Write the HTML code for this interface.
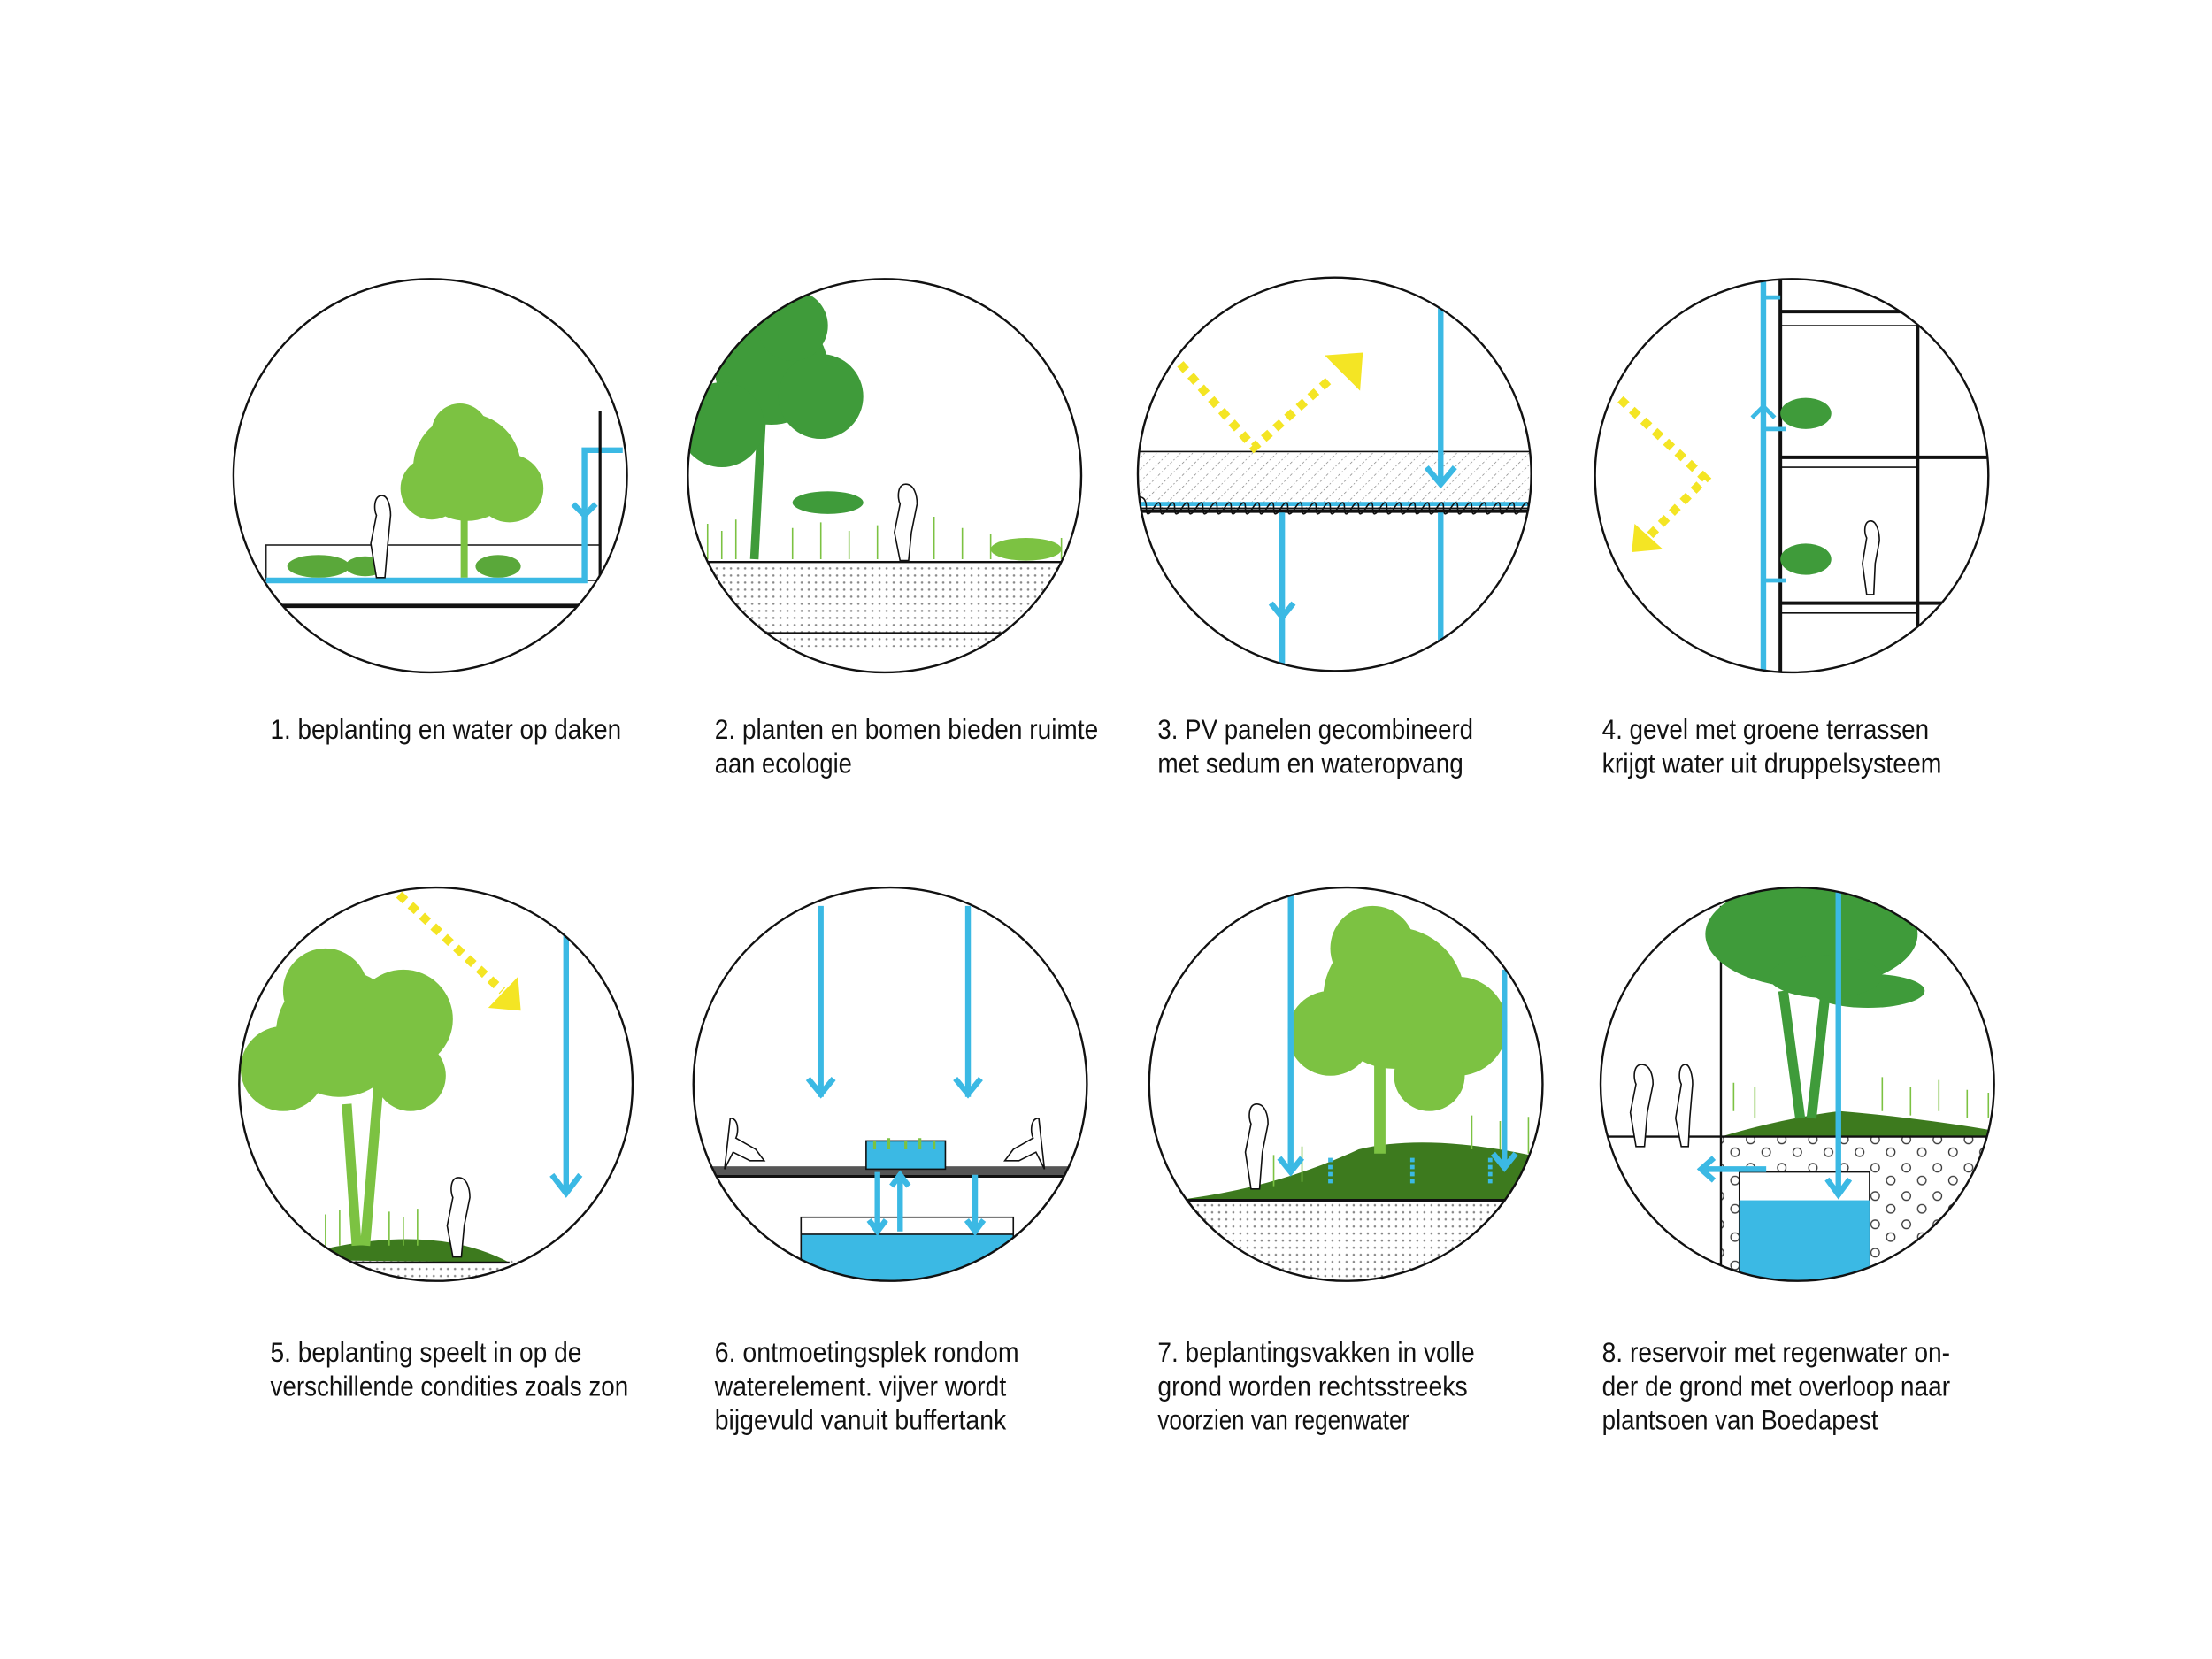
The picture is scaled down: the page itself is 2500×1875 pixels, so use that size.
<!DOCTYPE html>
<html><head><meta charset="utf-8"><style>
html,body{margin:0;padding:0;background:#fff;}
svg{display:block;}
text{font-family:"Liberation Sans Narrow","Liberation Sans",sans-serif;font-size:19.5px;fill:#111;}
</style></head><body>
<svg width="2500" height="1875" viewBox="0 0 1563 1172" xmlns="http://www.w3.org/2000/svg">
<defs>
<pattern id="dots" width="5" height="5" patternUnits="userSpaceOnUse"><rect width="5" height="5" fill="#fff"/><circle cx="1.5" cy="1.5" r="0.8" fill="#888"/></pattern>
<pattern id="hatch" width="6" height="6" patternUnits="userSpaceOnUse" patternTransform="rotate(45)"><rect width="6" height="6" fill="#fff"/><line x1="0" y1="0" x2="0" y2="6" stroke="#777" stroke-width="0.8" stroke-dasharray="1,1.5"/></pattern>
<pattern id="circ" width="22" height="20" patternUnits="userSpaceOnUse"><rect width="22" height="20" fill="#fff"/><circle cx="5" cy="5" r="3" fill="none" stroke="#333" stroke-width="0.8"/><circle cx="16" cy="14" r="3" fill="none" stroke="#333" stroke-width="0.8"/></pattern>
<clipPath id="c1"><circle cx="304" cy="336" r="139"/></clipPath>
<clipPath id="c2"><circle cx="625" cy="336" r="139"/></clipPath>
<clipPath id="c3"><circle cx="943" cy="335" r="139"/></clipPath>
<clipPath id="c4"><circle cx="1266" cy="336" r="139"/></clipPath>
<clipPath id="c5"><circle cx="308" cy="766" r="139"/></clipPath>
<clipPath id="c6"><circle cx="629" cy="766" r="139"/></clipPath>
<clipPath id="c7"><circle cx="951" cy="766" r="139"/></clipPath>
<clipPath id="c8"><circle cx="1270" cy="766" r="139"/></clipPath>
</defs>

<!-- 1 -->
<g clip-path="url(#c1)">
<rect x="188" y="385" width="236" height="25" fill="none" stroke="#222" stroke-width="1"/>
<line x1="160" y1="428" x2="424" y2="428" stroke="#111" stroke-width="3"/>
<path d="M188 410 H413 V318 H440" fill="none" stroke="#3bb9e4" stroke-width="4"/>
<path d="M424 290 V428" stroke="#111" stroke-width="2"/>
<path d="M405 356 l8 8 l8 -8" fill="none" stroke="#3bb9e4" stroke-width="4"/>
<line x1="328" y1="340" x2="328" y2="408" stroke="#7cc242" stroke-width="5"/>
<g fill="#7cc242"><circle cx="330" cy="330" r="38"/><circle cx="305" cy="345" r="22"/><circle cx="360" cy="345" r="24"/><circle cx="325" cy="305" r="20"/></g>
<g fill="#5aa83a"><ellipse cx="225" cy="400" rx="22" ry="8"/><ellipse cx="258" cy="400" rx="14" ry="7"/><ellipse cx="352" cy="400" rx="16" ry="8"/></g>
<path d="M270 350 c-6 0 -6 10 -4 14 l-4 20 l4 24 h6 l2 -24 l2 -20 c0 -6 -2 -14 -6 -14z" fill="#fff" stroke="#111"/>
</g>
<circle cx="304" cy="336" r="139" fill="none" stroke="#111" stroke-width="1.5"/>

<!-- 2 -->
<g clip-path="url(#c2)">
<rect x="480" y="397" width="300" height="60" fill="url(#dots)"/>
<line x1="480" y1="397" x2="780" y2="397" stroke="#111" stroke-width="1.5"/>
<line x1="480" y1="447" x2="780" y2="447" stroke="#111" stroke-width="1"/>
<path d="M533 395 L538 300 L545 250" stroke="#3f9b3a" stroke-width="6" fill="none"/>
<g fill="#3f9b3a"><circle cx="545" cy="260" r="40"/><circle cx="510" cy="300" r="30"/><circle cx="580" cy="280" r="30"/><circle cx="560" cy="230" r="25"/><ellipse cx="585" cy="355" rx="25" ry="8"/></g>
<g stroke="#7cc242" stroke-width="1"><path d="M500 395 v-25 M510 395 v-20 M520 395 v-28 M560 395 v-22 M580 395 v-26 M600 395 v-20 M620 395 v-24 M660 395 v-30 M680 395 v-22 M700 395 v-18 M750 395 v-15"/></g>
<ellipse cx="725" cy="388" rx="25" ry="8" fill="#7cc242"/>
<path d="M640 342 c-6 0 -6 10 -4 14 l-4 20 l4 20 h6 l2 -20 l4 -20 c0 -6 -2 -14 -8 -14z" fill="#fff" stroke="#111"/>
</g>
<circle cx="625" cy="336" r="139" fill="none" stroke="#111" stroke-width="1.5"/>

<!-- 3 -->
<g clip-path="url(#c3)">
<rect x="790" y="319" width="310" height="40" fill="url(#hatch)" stroke="#111" stroke-width="1"/>
<line x1="790" y1="356" x2="1100" y2="356" stroke="#3bb9e4" stroke-width="3"/>
<path d="M800 359 q0-8 5-8 t5 8 t5 0 t5 0 t5 0 t5 0 t5 0 t5 0 t5 0 t5 0 t5 0 t5 0 t5 0 t5 0 t5 0 t5 0 t5 0 t5 0 t5 0 t5 0 t5 0 t5 0 t5 0 t5 0 t5 0 t5 0 t5 0 t5 0 t5 0 t5 0 t5 0 t5 0 t5 0 t5 0 t5 0 t5 0 t5 0 t5 0 t5 0 t5 0 t5 0 t5 0 t5 0 t5 0 t5 0 t5 0 t5 0 t5 0 t5 0 t5 0 t5 0 t5 0 t5 0 t5 0 t5 0 t5 0" fill="none" stroke="#111" stroke-width="1"/>
<line x1="790" y1="361" x2="1100" y2="361" stroke="#111" stroke-width="2.5"/>
<line x1="1018" y1="210" x2="1018" y2="340" stroke="#3bb9e4" stroke-width="4"/>
<path d="M1008 330 l10 12 l10 -12" fill="none" stroke="#3bb9e4" stroke-width="4"/>
<line x1="1018" y1="362" x2="1018" y2="470" stroke="#3bb9e4" stroke-width="4"/>
<line x1="906" y1="362" x2="906" y2="480" stroke="#3bb9e4" stroke-width="4"/>
<path d="M898 426 l8 10 l8 -10" fill="none" stroke="#3bb9e4" stroke-width="4"/>
<path d="M834 257 L886 316 L942 266" fill="none" stroke="#f4e524" stroke-width="6" stroke-dasharray="6,5"/>
<path d="M936 251 L963 249 L961 276 Z" fill="#f4e524"/>
</g>
<circle cx="943" cy="335" r="139" fill="none" stroke="#111" stroke-width="1.5"/>

<!-- 4 -->
<g clip-path="url(#c4)">
<g stroke="#111" stroke-width="2.5" fill="none"><path d="M1258 190 V480 M1355 190 V480 M1258 220 H1420 M1258 323 H1420 M1258 426 H1420"/></g>
<g stroke="#111" stroke-width="1" fill="none"><path d="M1258 230 H1355 M1258 330 H1355 M1258 433 H1355"/></g>
<path d="M1246 190 V480" stroke="#3bb9e4" stroke-width="4"/>
<path d="M1246 210 H1258 M1246 303 H1262 M1246 410 H1262" stroke="#3bb9e4" stroke-width="3"/>
<path d="M1238 295 l8 -8 l8 8" fill="none" stroke="#3bb9e4" stroke-width="3"/>
<g fill="#3f9b3a"><ellipse cx="1276" cy="292" rx="18" ry="11"/><ellipse cx="1276" cy="395" rx="18" ry="11"/></g>
<path d="M1322 368 c-5 0 -5 8 -3 12 l-3 18 l3 22 h5 l1 -22 l3 -16 c0 -6 -2 -14 -6 -14z" fill="#fff" stroke="#111"/>
<path d="M1145 282 L1205 338 L1166 378" fill="none" stroke="#f4e524" stroke-width="6" stroke-dasharray="6,5"/>
<path d="M1155 370 L1153 390 L1175 388 Z" fill="#f4e524"/>
</g>
<circle cx="1266" cy="336" r="139" fill="none" stroke="#111" stroke-width="1.5"/>

<!-- 5 -->
<g clip-path="url(#c5)">
<rect x="165" y="890" width="290" height="30" fill="url(#dots)"/>
<path d="M200 890 Q300 860 360 892 Z" fill="#3d7a1e"/>
<line x1="200" y1="892" x2="360" y2="892" stroke="#111" stroke-width="1.5"/>
<path d="M252 880 L245 780 M258 880 L268 760" stroke="#7cc242" stroke-width="7" fill="none"/>
<g fill="#7cc242"><circle cx="240" cy="730" r="45"/><circle cx="200" cy="755" r="30"/><circle cx="285" cy="720" r="35"/><circle cx="230" cy="700" r="30"/><circle cx="290" cy="760" r="25"/></g>
<g stroke="#7cc242" stroke-width="1"><path d="M230 880 v-22 M240 880 v-25 M275 880 v-24 M285 880 v-20 M295 880 v-26"/></g>
<path d="M324 832 c-6 0 -6 10 -4 14 l-4 20 l4 22 h6 l2 -22 l4 -20 c0 -6 -2 -14 -8 -14z" fill="#fff" stroke="#111"/>
<line x1="400" y1="660" x2="400" y2="840" stroke="#3bb9e4" stroke-width="4"/>
<path d="M390 830 l10 13 l10 -13" fill="none" stroke="#3bb9e4" stroke-width="4"/>
<path d="M282 632 L355 700" fill="none" stroke="#f4e524" stroke-width="6" stroke-dasharray="6,5"/>
<path d="M345 712 L368 714 L366 690 Z" fill="#f4e524"/>
</g>
<circle cx="308" cy="766" r="139" fill="none" stroke="#111" stroke-width="1.5"/>

<!-- 6 -->
<g clip-path="url(#c6)">
<rect x="500" y="824" width="270" height="6" fill="#555"/>
<line x1="500" y1="831" x2="770" y2="831" stroke="#111" stroke-width="2"/>
<rect x="566" y="860" width="150" height="50" fill="#3bb9e4" stroke="#111" stroke-width="1"/>
<rect x="566" y="860" width="150" height="12" fill="#fff" stroke="#111" stroke-width="1"/>
<rect x="612" y="806" width="56" height="20" fill="#3bb9e4" stroke="#111" stroke-width="1"/>
<g stroke="#7cc242" stroke-width="2"><path d="M618 812 v-6 M628 812 v-8 M640 812 v-6 M650 812 v-8 M660 812 v-6"/></g>
<g stroke="#3bb9e4" stroke-width="4" fill="none">
<path d="M580 640 V775 M571 762 l9 11 l9 -11"/>
<path d="M684 640 V775 M675 762 l9 11 l9 -11"/>
<path d="M620 828 V870 M614 862 l6 8 l6 -8"/>
<path d="M636 870 V830 M630 838 l6 -8 l6 8"/>
<path d="M689 830 V870 M683 862 l6 8 l6 -8"/>
</g>
<path d="M516 790 c6 0 6 10 4 14 l14 8 l6 8 h-10 l-12 -6 l-6 12 z" fill="#fff" stroke="#111"/>
<path d="M734 790 c-6 0 -6 10 -4 14 l-14 8 l-6 8 h10 l12 -6 l6 12 z" fill="#fff" stroke="#111"/>
</g>
<circle cx="629" cy="766" r="139" fill="none" stroke="#111" stroke-width="1.5"/>

<!-- 7 -->
<g clip-path="url(#c7)">
<rect x="810" y="848" width="290" height="70" fill="url(#dots)"/>
<path d="M830 848 Q900 840 960 812 Q1010 800 1090 818 L1090 848 Z" fill="#3d7a1e"/>
<line x1="830" y1="848" x2="1090" y2="848" stroke="#111" stroke-width="2"/>
<path d="M975 815 L975 740" stroke="#7cc242" stroke-width="8"/>
<g fill="#7cc242"><circle cx="985" cy="705" r="50"/><circle cx="940" cy="730" r="30"/><circle cx="1030" cy="725" r="35"/><circle cx="970" cy="670" r="30"/><circle cx="1010" cy="760" r="25"/></g>
<g stroke="#7cc242" stroke-width="1"><path d="M900 838 v-22 M920 835 v-25 M1040 812 v-24 M1060 812 v-20 M1080 815 v-26"/></g>
<path d="M888 780 c-6 0 -6 10 -4 14 l-4 20 l4 26 h6 l2 -26 l4 -20 c0 -6 -2 -14 -8 -14z" fill="#fff" stroke="#111"/>
<g stroke="#3bb9e4" stroke-width="4" fill="none">
<path d="M912 630 V828 M904 818 l8 10 l8 -10"/>
<path d="M1063 685 V825 M1055 815 l8 10 l8 -10"/>
</g>
<g stroke="#3bb9e4" stroke-width="3" fill="none" stroke-dasharray="3,2"><path d="M940 818 v20 M998 818 v20 M1053 818 v20"/></g>
</g>
<circle cx="951" cy="766" r="139" fill="none" stroke="#111" stroke-width="1.5"/>

<!-- 8 -->
<g clip-path="url(#c8)">
<rect x="1216" y="803" width="200" height="120" fill="url(#circ)"/>
<path d="M1216 803 Q1260 790 1300 785 Q1360 790 1416 800 L1416 803 Z" fill="#3d7a1e"/>
<line x1="1125" y1="803" x2="1416" y2="803" stroke="#111" stroke-width="1.5"/>
<line x1="1216" y1="640" x2="1216" y2="895" stroke="#111" stroke-width="1.5"/>
<rect x="1229" y="828" width="92" height="100" fill="#fff" stroke="#111" stroke-width="1"/>
<rect x="1229" y="848" width="92" height="80" fill="#3bb9e4"/>
<path d="M1272 790 L1260 700 M1280 790 L1290 700" stroke="#3f9b3a" stroke-width="7"/>
<g fill="#3f9b3a"><ellipse cx="1280" cy="660" rx="75" ry="38"/><ellipse cx="1320" cy="700" rx="40" ry="12"/><ellipse cx="1290" cy="690" rx="40" ry="15"/></g>
<g stroke="#7cc242" stroke-width="1"><path d="M1225 785 v-20 M1240 790 v-22 M1330 785 v-24 M1350 788 v-20 M1370 785 v-22 M1390 790 v-20 M1405 790 v-18"/></g>
<path d="M1160 752 c-6 0 -6 10 -4 14 l-4 20 l4 24 h6 l2 -24 l4 -20 c0 -6 -2 -14 -8 -14z" fill="#fff" stroke="#111"/>
<path d="M1191 752 c-5 0 -5 10 -3 14 l-4 24 l4 20 h5 l1 -20 l2 -24 c0 -6 -2 -14 -5 -14z" fill="#fff" stroke="#111"/>
<g stroke="#3bb9e4" stroke-width="4" fill="none">
<path d="M1299 630 V845 M1291 833 l8 11 l8 -11"/>
<path d="M1248 826 H1202 M1211 818 l-9 8 l9 8"/>
</g>
</g>
<circle cx="1270" cy="766" r="139" fill="none" stroke="#111" stroke-width="1.5"/>

<!-- labels -->
<text x="191" y="522" textLength="248" lengthAdjust="spacingAndGlyphs">1. beplanting en water op daken</text>
<text x="505" y="522" textLength="271" lengthAdjust="spacingAndGlyphs">2. planten en bomen bieden ruimte</text>
<text x="505" y="546" textLength="97" lengthAdjust="spacingAndGlyphs">aan ecologie</text>
<text x="818" y="522" textLength="223" lengthAdjust="spacingAndGlyphs">3. PV panelen gecombineerd</text>
<text x="818" y="546" textLength="216" lengthAdjust="spacingAndGlyphs">met sedum en wateropvang</text>
<text x="1132" y="522" textLength="231" lengthAdjust="spacingAndGlyphs">4. gevel met groene terrassen</text>
<text x="1132" y="546" textLength="240" lengthAdjust="spacingAndGlyphs">krijgt water uit druppelsysteem</text>

<text x="191" y="962" textLength="220" lengthAdjust="spacingAndGlyphs">5. beplanting speelt in op de</text>
<text x="191" y="986" textLength="253" lengthAdjust="spacingAndGlyphs">verschillende condities zoals zon</text>
<text x="505" y="962" textLength="215" lengthAdjust="spacingAndGlyphs">6. ontmoetingsplek rondom</text>
<text x="505" y="986" textLength="206" lengthAdjust="spacingAndGlyphs">waterelement. vijver wordt</text>
<text x="505" y="1010" textLength="206" lengthAdjust="spacingAndGlyphs">bijgevuld vanuit buffertank</text>
<text x="818" y="962" textLength="224" lengthAdjust="spacingAndGlyphs">7. beplantingsvakken in volle</text>
<text x="818" y="986" textLength="219" lengthAdjust="spacingAndGlyphs">grond worden rechtsstreeks</text>
<text x="818" y="1010" textLength="178" lengthAdjust="spacingAndGlyphs">voorzien van regenwater</text>
<text x="1132" y="962" textLength="246" lengthAdjust="spacingAndGlyphs">8. reservoir met regenwater on-</text>
<text x="1132" y="986" textLength="246" lengthAdjust="spacingAndGlyphs">der de grond met overloop naar</text>
<text x="1132" y="1010" textLength="195" lengthAdjust="spacingAndGlyphs">plantsoen van Boedapest</text>
</svg>
</body></html>
